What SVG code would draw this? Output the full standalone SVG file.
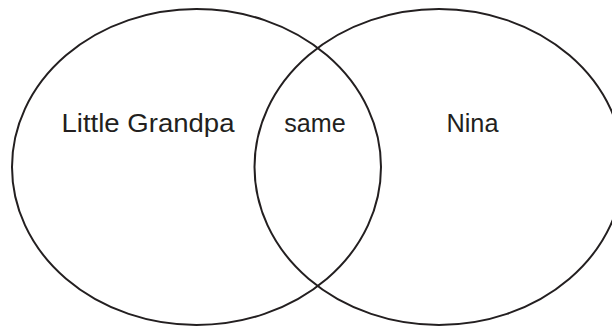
<svg xmlns="http://www.w3.org/2000/svg" width="612" height="326" viewBox="0 0 612 326">
<style>
.c{fill:none;stroke:#231f20;stroke-width:2}
.t{font-family:"Liberation Sans",Arial,sans-serif;font-size:26px;fill:#231f20}
</style>
<rect width="612" height="326" fill="#fff"/>
<g id="left-set">
<ellipse class="c" cx="196.5" cy="167" rx="184.5" ry="158"/>
<text class="t" x="61.5" y="132.3" textLength="173" lengthAdjust="spacingAndGlyphs">Little Grandpa</text>
</g>
<g id="right-set">
<ellipse class="c" cx="439" cy="167" rx="184.5" ry="158"/>
<text class="t" x="446.5" y="132.3" textLength="52" lengthAdjust="spacingAndGlyphs">Nina</text>
</g>
<g id="overlap">
<text class="t" x="284.3" y="132.3" textLength="61.4" lengthAdjust="spacingAndGlyphs">same</text>
</g>
<g id="connectors"/>
</svg>
